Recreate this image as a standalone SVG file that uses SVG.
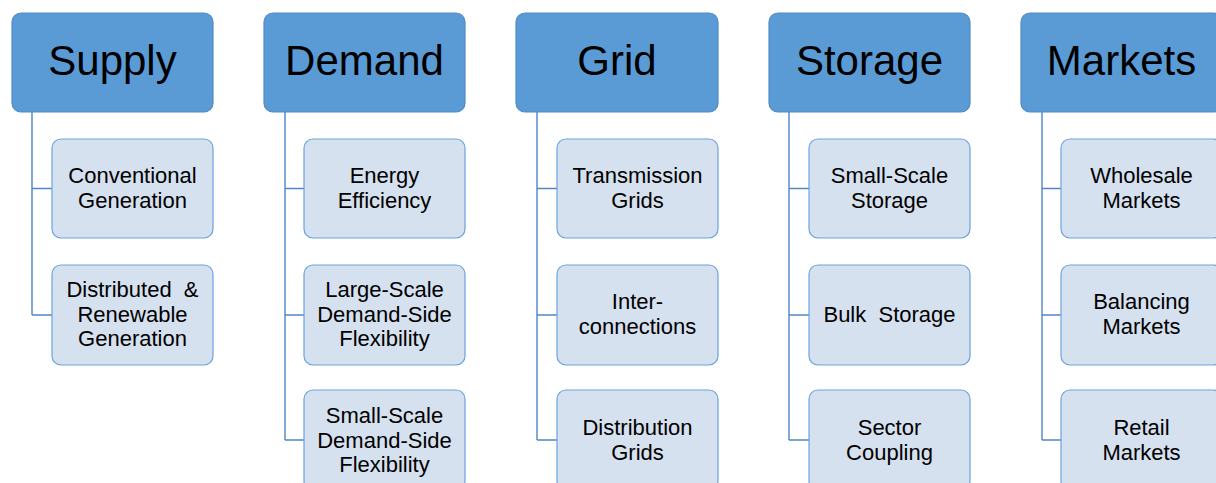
<svg xmlns="http://www.w3.org/2000/svg" width="1216" height="483" viewBox="0 0 1216 483">
  <style>
    .head rect { fill: #5b9bd5; stroke: #4f8cc6; stroke-width: 1.2; }
    .head text { font-family: "Liberation Sans", Arial, sans-serif; font-size: 42px; fill: #000; text-anchor: middle; }
    .item rect { fill: #d6e1ef; stroke: #6aa3dc; stroke-width: 1.2; }
    .item text { font-family: "Liberation Sans", Arial, sans-serif; font-size: 22px; fill: #000; text-anchor: middle; white-space: pre; }
    .links path { fill: none; stroke: #4f86c3; stroke-width: 1.4; }
  </style>

  <!-- connectors: spine down from each header, with a tick into every child -->
  <g class="links">
    <path d="M32 112 V315 M32 188.5 H52 M32 315 H52"/>
    <path d="M285 112 V440 M285 188.5 H304 M285 315 H304 M285 440 H304"/>
    <path d="M537 112 V440 M537 188.5 H557 M537 315 H557 M537 440 H557"/>
    <path d="M789 112 V440 M789 188.5 H809 M789 315 H809 M789 440 H809"/>
    <path d="M1042 112 V440 M1042 188.5 H1061 M1042 315 H1061 M1042 440 H1061"/>
  </g>

  <!-- column headers -->
  <g id="supply" class="head"><rect x="12" y="13" width="201" height="99" rx="9"/><text x="112.5" y="75">Supply</text></g>
  <g id="demand" class="head"><rect x="264" y="13" width="201" height="99" rx="9"/><text x="364.5" y="75">Demand</text></g>
  <g id="grid" class="head"><rect x="516" y="13" width="202" height="99" rx="9"/><text x="617" y="75">Grid</text></g>
  <g id="storage" class="head"><rect x="769" y="13" width="201" height="99" rx="9"/><text x="869.5" y="75">Storage</text></g>
  <g id="markets" class="head"><rect x="1021" y="13" width="201" height="99" rx="9"/><text x="1121.5" y="75">Markets</text></g>

  <!-- Supply children -->
  <g id="conventional-generation" class="item"><rect x="52" y="139" width="161" height="99" rx="9"/><text x="132.5" y="183">Conventional</text><text x="132.5" y="208">Generation</text></g>
  <g id="distributed-renewable-generation" class="item"><rect x="52" y="265" width="161" height="100" rx="9"/><text x="132.5" y="297" xml:space="preserve">Distributed  &amp;</text><text x="132.5" y="322">Renewable</text><text x="132.5" y="346">Generation</text></g>

  <!-- Demand children -->
  <g id="energy-efficiency" class="item"><rect x="304" y="139" width="161" height="99" rx="9"/><text x="384.5" y="183">Energy</text><text x="384.5" y="208">Efficiency</text></g>
  <g id="large-scale-dsf" class="item"><rect x="304" y="265" width="161" height="100" rx="9"/><text x="384.5" y="297">Large-Scale</text><text x="384.5" y="322">Demand-Side</text><text x="384.5" y="346">Flexibility</text></g>
  <g id="small-scale-dsf" class="item"><rect x="304" y="390" width="161" height="100" rx="9"/><text x="384.5" y="423">Small-Scale</text><text x="384.5" y="448">Demand-Side</text><text x="384.5" y="472">Flexibility</text></g>

  <!-- Grid children -->
  <g id="transmission-grids" class="item"><rect x="557" y="139" width="161" height="99" rx="9"/><text x="637.5" y="183">Transmission</text><text x="637.5" y="208">Grids</text></g>
  <g id="interconnections" class="item"><rect x="557" y="265" width="161" height="100" rx="9"/><text x="637.5" y="309">Inter-</text><text x="637.5" y="334">connections</text></g>
  <g id="distribution-grids" class="item"><rect x="557" y="390" width="161" height="100" rx="9"/><text x="637.5" y="435">Distribution</text><text x="637.5" y="460">Grids</text></g>

  <!-- Storage children -->
  <g id="small-scale-storage" class="item"><rect x="809" y="139" width="161" height="99" rx="9"/><text x="889.5" y="183">Small-Scale</text><text x="889.5" y="208">Storage</text></g>
  <g id="bulk-storage" class="item"><rect x="809" y="265" width="161" height="100" rx="9"/><text x="889.5" y="322" xml:space="preserve">Bulk  Storage</text></g>
  <g id="sector-coupling" class="item"><rect x="809" y="390" width="161" height="100" rx="9"/><text x="889.5" y="435">Sector</text><text x="889.5" y="460">Coupling</text></g>

  <!-- Markets children -->
  <g id="wholesale-markets" class="item"><rect x="1061" y="139" width="161" height="99" rx="9"/><text x="1141.5" y="183">Wholesale</text><text x="1141.5" y="208">Markets</text></g>
  <g id="balancing-markets" class="item"><rect x="1061" y="265" width="161" height="100" rx="9"/><text x="1141.5" y="309">Balancing</text><text x="1141.5" y="334">Markets</text></g>
  <g id="retail-markets" class="item"><rect x="1061" y="390" width="161" height="100" rx="9"/><text x="1141.5" y="435">Retail</text><text x="1141.5" y="460">Markets</text></g>
</svg>
